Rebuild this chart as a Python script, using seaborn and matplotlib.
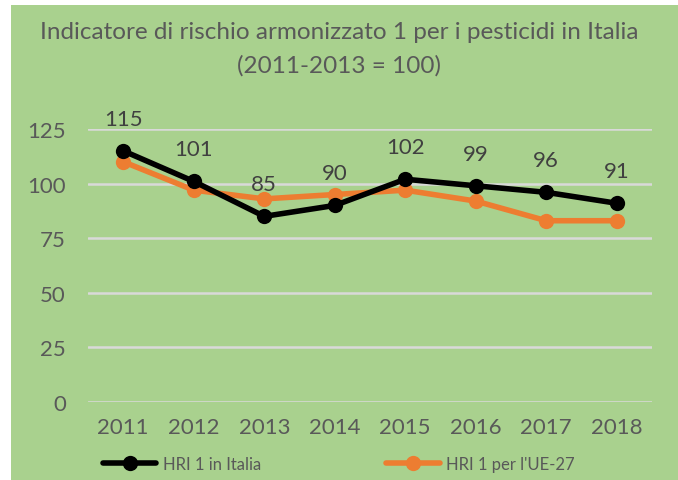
import pandas as pd
import numpy as np
import matplotlib
matplotlib.use('Agg')
import matplotlib.pyplot as plt
import seaborn as sns
from matplotlib.patches import Rectangle

# data
years = ['2011', '2012', '2013', '2014', '2015', '2016', '2017', '2018']
italia = [115, 101, 85, 90, 102, 99, 96, 91]
ue27 = [110, 97, 93, 95, 97, 92, 83, 83]
series_names = ['HRI 1 in Italia', "HRI 1 per l'UE-27"]
yticks = [0, 25, 50, 75, 100, 125]

green = '#a9d18e'
grey_text = '#595959'
colors = ['#000000', '#ed7d31']

sns.set_style('white')
plt.rcParams['font.family'] = ['Lato', 'DejaVu Sans']

df = pd.DataFrame({
    'anno': years * 2,
    'valore': italia + ue27,
    'serie': [series_names[0]] * len(years) + [series_names[1]] * len(years),
})

fig = plt.figure(figsize=(6.78, 4.81), dpi=100)
fig.patch.set_facecolor('white')
fig.patches.append(Rectangle((11 / 678, 0), 1 - 11 / 678, 1 - 6 / 481,
                             transform=fig.transFigure, facecolor=green,
                             edgecolor='none', zorder=-10))

ax = fig.add_axes([88 / 678, 78 / 481, 564 / 678, 273 / 481])
ax.set_facecolor('none')

# draw the UE line first so Italy sits on top
for name, col in zip(series_names[::-1], colors[::-1]):
    sns.lineplot(data=df[df['serie'] == name], x='anno', y='valore', ax=ax,
                 color=col, linewidth=4, marker='o', markersize=11,
                 markeredgewidth=0, label=name, sort=False)

ax.set_xlim(-0.5, len(years) - 0.5)
ax.set_ylim(0, 125)
ax.set_yticks(yticks)
ax.grid(axis='y', color='#d9d9d9', linewidth=1.8)
ax.grid(axis='x', visible=False)
ax.set_axisbelow(True)
for s in ax.spines.values():
    s.set_visible(False)
ax.set_xlabel('')
ax.set_ylabel('')
ax.tick_params(axis='both', length=0, labelsize=16, labelcolor=grey_text)
ax.tick_params(axis='y', pad=16)
ax.tick_params(axis='x', pad=11)

for i, v in enumerate(italia):
    ax.annotate(str(v), (i, v), xytext=(0, 23), textcoords='offset points',
                ha='center', va='center', fontsize=16, color='#404040',
                annotation_clip=False)

fig.text(0.5, 1 - 33 / 481, 'Indicatore di rischio armonizzato 1 per i pesticidi in Italia',
         ha='center', va='center', fontsize=17.5, color=grey_text)
fig.text(0.5, 1 - 66 / 481, '(2011-2013 = 100)',
         ha='center', va='center', fontsize=17.5, color=grey_text)

handles, labels = ax.get_legend_handles_labels()
ax.get_legend().remove()
fig.legend(handles[::-1], labels[::-1], loc='center', ncol=2,
           bbox_to_anchor=(0.5, 1 - 465 / 481), frameon=False,
           fontsize=12, labelcolor=grey_text, handlelength=3.2,
           handletextpad=0.4, columnspacing=7.5)

fig.savefig('out.png', dpi=100)
